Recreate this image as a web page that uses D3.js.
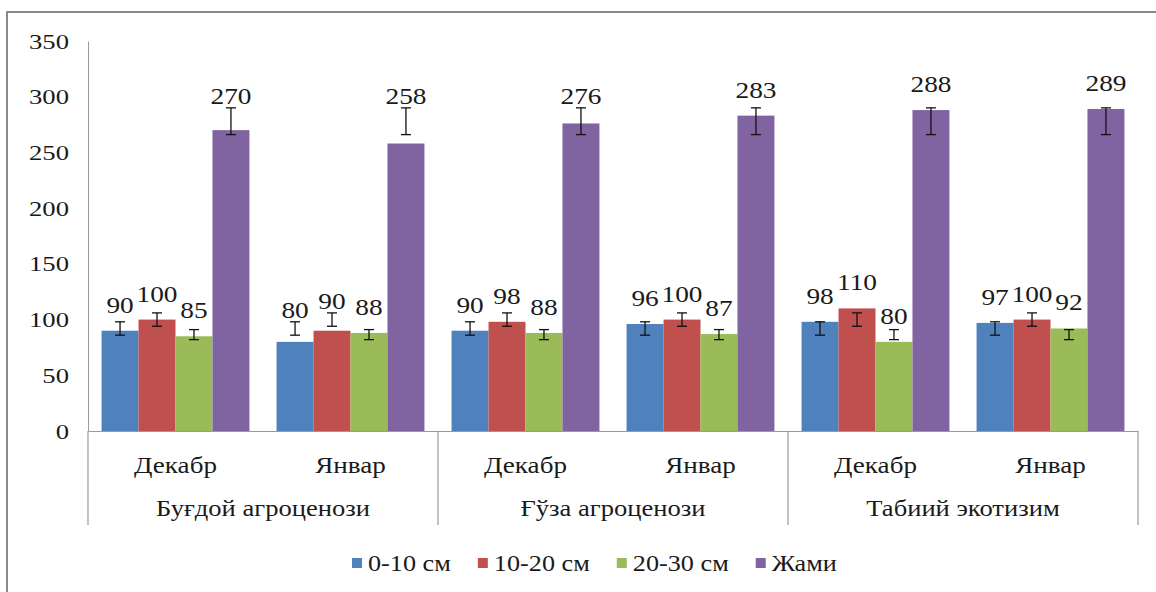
<!DOCTYPE html>
<meta charset="utf-8">
<style>
body { margin: 0; background: #fff; }
</style>
<body>
<svg id="chart" width="1156" height="592"></svg>

<script src="https://cdn.jsdelivr.net/npm/d3@7"></script>
<script>

// groups and months on the x axis
var groups = ["Буғдой агроценози", "Ғўза агроценози", "Табиий экотизим"];
var months = ["Декабр", "Январ"];

// series (soil layers + total)
var series = ["0-10 см", "10-20 см", "20-30 см", "Жами"];
var colors = ["#4F81BD", "#C0504D", "#9BBB59", "#8064A2"];

// values, order: group1 Дек, Янв, group2 Дек, Янв, group3 Дек, Янв
var s0_10  = [90, 80, 90, 96, 98, 97];
var s10_20 = [100, 90, 98, 100, 110, 100];
var s20_30 = [85, 88, 88, 87, 80, 92];
var sTotal = [270, 258, 276, 283, 288, 289];

// error bar ends per series
var errLow  = [86, 94, 82, 266];
var errHigh = [98, 106, 91, 290];

var yTicks = [0, 50, 100, 150, 200, 250, 300, 350];

// ---------------------------------------------------------------
var values = [s0_10, s10_20, s20_30, sTotal];
var cats = [];
groups.forEach(function (g, gi) {
    months.forEach(function (m, mi) { cats.push({group: gi, month: m, idx: gi * 2 + mi}); });
});

var svg = d3.select("#chart");
var plotLeft = 88, plotRight = 1138, plotBase = 431, plotTop = 41, sepBottom = 525;
var fontFam = "Liberation Serif, Times New Roman, serif";
var ink = "#1a1a1a";

function measure(str, size) {
    var t = svg.append("text").style("font-family", fontFam).style("font-size", size + "px").text(str);
    var w = t.node().getComputedTextLength();
    t.remove();
    return w;
}

// stretch factor so a sample string gets the width seen in the picture
function fit(sample, size, target) { return target / measure(sample, size); }
var sxTick = fit("350", 22, 40);
var sxLabel = fit("270", 24, 41);
var sxMonth = fit("Декабр", 24, 83);
var sxGroup = fit("Буғдой агроценози", 24, 214);
var sxLegend = fit("10-20 см", 23, 96);

// apply font and sideways stretch
function stretch(sel, sx, size) {
    sel.style("font-family", fontFam).style("font-size", size + "px").style("fill", ink);
    sel.each(function () {
        var t = d3.select(this);
        var x = +t.attr("x") || 0, y = +t.attr("y") || 0;
        t.attr("x", null).attr("y", null)
            .attr("transform", "translate(" + x + "," + y + ") scale(" + sx + ",1)");
    });
}

// outer frame
svg.append("rect")
    .attr("x", 7).attr("y", 12)
    .attr("width", 1170).attr("height", 600)
    .attr("fill", "none").attr("stroke", "#8a8a8a").attr("stroke-width", 2);

var y = d3.scaleLinear().domain([0, 350]).range([plotBase, plotTop]);

var x0 = d3.scaleBand()
    .domain(cats.map(function (c) { return c.idx; }))
    .range([plotLeft, plotRight])
    .paddingInner(0.155)
    .paddingOuter(0.0775);

var x1 = d3.scaleBand()
    .domain(d3.range(series.length))
    .range([0, x0.bandwidth()]);

// y axis
var yAxis = svg.append("g")
    .attr("transform", "translate(" + plotLeft + ",0)")
    .call(d3.axisLeft(y).tickValues(yTicks).tickSize(0).tickSizeOuter(0).tickPadding(19));
yAxis.select(".domain").attr("stroke", "#9a9a9a");
stretch(yAxis.selectAll("text"), sxTick, 22);

// group separators under the axis
var seps = [0, 1, 2, 3].map(function (i) { return plotLeft + i * (plotRight - plotLeft) / groups.length; });
svg.selectAll(".sep").data(seps).enter().append("line")
    .attr("class", "sep")
    .attr("x1", function (d) { return d; }).attr("x2", function (d) { return d; })
    .attr("y1", plotBase).attr("y2", sepBottom)
    .attr("stroke", "#9a9a9a").attr("stroke-width", 1.2);

// bars
var bars = svg.append("g");
cats.forEach(function (c) {
    var g = bars.append("g").attr("transform", "translate(" + x0(c.idx) + ",0)");
    g.selectAll("rect").data(series).enter().append("rect")
        .attr("x", function (d, i) { return x1(i); })
        .attr("width", x1.bandwidth())
        .attr("y", function (d, i) { return y(values[i][c.idx]); })
        .attr("height", function (d, i) { return plotBase - y(values[i][c.idx]); })
        .attr("fill", function (d, i) { return colors[i]; });

    // error bars
    series.forEach(function (s, i) {
        var cx = x1(i) + x1.bandwidth() / 2;
        var eb = g.append("g").attr("stroke", "#111").attr("stroke-width", 1.3);
        eb.append("line").attr("x1", cx).attr("x2", cx)
            .attr("y1", y(errLow[i])).attr("y2", y(errHigh[i]));
        eb.append("line").attr("x1", cx - 5).attr("x2", cx + 5)
            .attr("y1", y(errLow[i])).attr("y2", y(errLow[i]));
        eb.append("line").attr("x1", cx - 5).attr("x2", cx + 5)
            .attr("y1", y(errHigh[i])).attr("y2", y(errHigh[i]));
    });

    // data labels, kept clear of the error caps
    var lbl = g.selectAll("text").data(series).enter().append("text")
        .attr("x", function (d, i) { return x1(i) + x1.bandwidth() / 2; })
        .attr("y", function (d, i) {
            return Math.min(y(values[i][c.idx]) - 18, y(errHigh[i]) - 4);
        })
        .attr("text-anchor", "middle")
        .text(function (d, i) { return values[i][c.idx]; });
    stretch(lbl, sxLabel, 24);
});

// x axis (months)
var xAxis = svg.append("g")
    .attr("transform", "translate(0," + plotBase + ")")
    .call(d3.axisBottom(x0).tickSize(0).tickSizeOuter(0).tickPadding(25)
        .tickFormat(function (d) { return months[d % 2]; }));
xAxis.select(".domain").attr("stroke", "#9a9a9a").attr("stroke-width", 1.2);
stretch(xAxis.selectAll("text"), sxMonth, 24);

// group names
var gl = svg.selectAll(".grp").data(groups).enter().append("text")
    .attr("class", "grp")
    .attr("x", function (d, i) { return (seps[i] + seps[i + 1]) / 2; })
    .attr("y", 516)
    .attr("text-anchor", "middle")
    .text(function (d) { return d; });
stretch(gl, sxGroup, 24);

// legend
var lx = 352;
var legend = svg.append("g");
series.forEach(function (s, i) {
    legend.append("rect")
        .attr("x", lx).attr("y", 558).attr("width", 10).attr("height", 10)
        .attr("fill", colors[i]);
    var t = legend.append("text")
        .attr("x", lx + 16).attr("y", 571)
        .text(s);
    stretch(t, sxLegend, 23);
    var w = t.node().getComputedTextLength() * sxLegend;
    lx += 16 + w + 27;
});

</script>
</body>
